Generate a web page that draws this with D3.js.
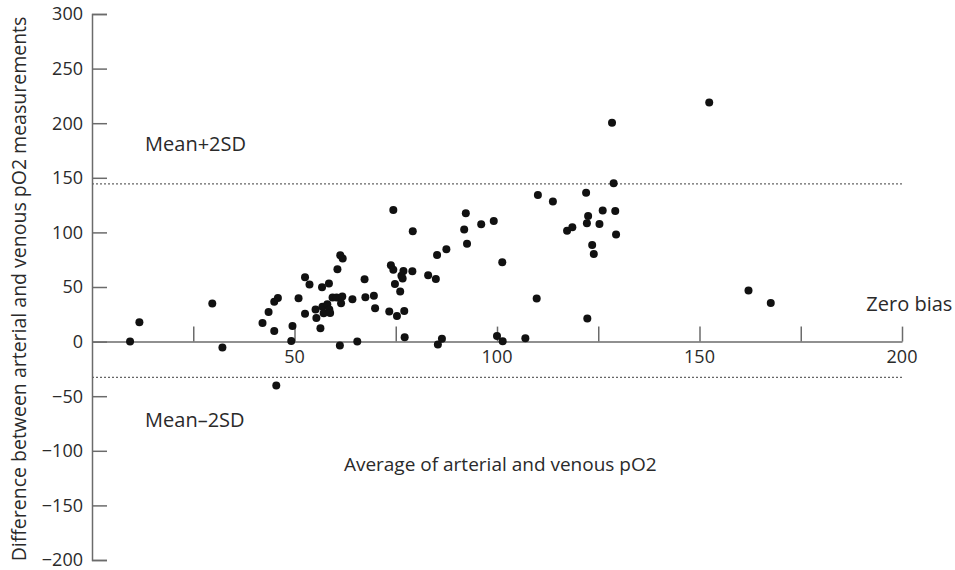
<!DOCTYPE html>
<html>
<head>
<meta charset="utf-8">
<script src="https://cdn.jsdelivr.net/npm/d3@7"></script>
<style>
  body { margin: 0; background: #fff; }
  svg text { font-family: "Open Sans", Lato, sans-serif; fill: #2a2a2a; }
</style>
</head>
<body>
<svg id="chart"></svg>
<script>
// average of arterial and venous pO2 (x) vs difference (y)
var avgPO2 = [9.4, 11.7, 29.7, 32.2, 42.1, 43.6, 45.0, 45.0, 45.9, 45.5,
  49.2, 49.5, 51.0, 52.6, 53.7, 52.6, 55.2, 55.4, 56.4, 56.8,
  58.5, 56.9, 57.2, 58.1, 58.6, 58.8, 59.4, 60.4, 61.8, 61.5,
  64.3, 60.6, 61.3, 61.9, 61.2, 65.5, 67.3, 67.5, 69.6, 69.9,
  73.4, 75.3, 77.1, 77.2, 74.4, 79.2, 73.8, 74.4, 76.9, 76.4,
  76.7, 79.1, 74.8, 76.1, 83.0, 84.9, 85.2, 87.5, 85.4, 86.4,
  92.3, 91.9, 92.6, 96.1, 99.2, 101.3, 100.0, 101.4, 107.0, 109.8,
  110.1, 113.8, 117.3, 118.6, 122.0, 122.5, 122.2, 123.5, 123.9, 122.3,
  125.3, 126.1, 129.2, 129.4, 128.8, 128.4, 152.4, 162.1, 167.6]
var diffPO2 = [0, 17.7, 35, -5.5, 17, 27, 9.8, 36.6, 40, -40.3,
  0.5, 14.4, 39.8, 58.9, 52.2, 25.6, 29.3, 21.7, 12.2, 49.7,
  53.1, 31.8, 25.9, 34.2, 29.3, 26.3, 40.3, 40.3, 41.2, 35.1,
  38.7, 66.2, 79, 76, -3.5, 0, 57, 40.6, 42.1, 30.5,
  27.5, 23.5, 28.1, 3.9, 120.6, 101, 69.9, 65.7, 64.7, 60.2,
  57.7, 64.4, 52.8, 45.8, 60.7, 57.4, 79.4, 84.5, -2.7, 2.5,
  117.5, 102.6, 89.5, 107.4, 110.5, 72.6, 5.2, 0.3, 3, 39.4,
  134.3, 128.2, 101.6, 104.7, 136.4, 115.1, 108.3, 88.5, 80.3, 21.1,
  107.8, 120, 119.7, 98, 145, 200.3, 218.9, 46.7, 35.4]

var upperLimit = 144.4   // mean + 2SD
var lowerLimit = -32.7   // mean - 2SD

var yTicks = [300, 250, 200, 150, 100, 50, 0, -50, -100, -150, -200]
var xTicks = [25, 50, 75, 100, 125, 150, 175, 200]
var xTickLabels = [50, 100, 150, 200]

var data = avgPO2.map((d, i) => ({x: d, y: diffPO2[i]}))

var width = 955, height = 570
var svg = d3.select("#chart").attr("width", width).attr("height", height)

var x = d3.scaleLinear().domain([0, 200]).range([92, 902])
var y = d3.scaleLinear().domain([-200, 300]).range([560, 14])

var axisColor = "#6b6b6b"

// y axis, ticks pointing into the plot
var yAxis = svg.append("g")
    .attr("transform", "translate(" + x(0) + ",0)")
    .call(d3.axisRight(y).tickValues(yTicks).tickSize(15).tickFormat(""))
yAxis.select(".domain").attr("stroke", axisColor).attr("stroke-width", 1.5)
yAxis.selectAll(".tick line").attr("stroke", axisColor).attr("stroke-width", 1.5)

svg.selectAll(".ylab")
    .data(yTicks)
    .enter()
    .append("text")
    .attr("class", "ylab")
    .attr("x", x(0) - 9)
    .attr("y", d => y(d))
    .attr("dy", "0.36em")
    .attr("text-anchor", "end")
    .style("font-size", "18px")
    .text(d => d < 0 ? "\u2212" + Math.abs(d) : d)

// x axis along zero, ticks pointing up
var xAxis = svg.append("g")
    .attr("transform", "translate(0," + y(0) + ")")
    .call(d3.axisTop(x).tickValues(xTicks).tickSize(15).tickSizeOuter(0).tickFormat(""))
xAxis.select(".domain").attr("stroke", axisColor).attr("stroke-width", 1.5)
xAxis.selectAll(".tick line").attr("stroke", axisColor).attr("stroke-width", 1.5)

svg.selectAll(".xlab")
    .data(xTickLabels)
    .enter()
    .append("text")
    .attr("class", "xlab")
    .attr("x", d => x(d))
    .attr("y", y(0) + 21)
    .attr("text-anchor", "middle")
    .style("font-size", "18px")
    .text(d => d)

// limits of agreement
svg.selectAll(".limit")
    .data([upperLimit, lowerLimit])
    .enter()
    .append("line")
    .attr("class", "limit")
    .attr("x1", x(0))
    .attr("x2", x(200))
    .attr("y1", d => y(d))
    .attr("y2", d => y(d))
    .attr("stroke", "#666")
    .attr("stroke-width", 1.2)
    .attr("stroke-dasharray", "2,2")

// points
svg.selectAll("circle")
    .data(data)
    .enter()
    .append("circle")
    .attr("cx", d => x(d.x))
    .attr("cy", d => y(d.y))
    .attr("r", 4)
    .attr("fill", "#111")

// annotations
svg.append("text").attr("x", x(13.1)).attr("y", y(181)).attr("dy", "0.36em")
    .style("font-size", "20px").text("Mean+2SD")
svg.append("text").attr("x", x(13.1)).attr("y", y(-72)).attr("dy", "0.36em")
    .style("font-size", "20px").text("Mean\u20132SD")
svg.append("text").attr("x", x(191.2)).attr("y", y(35)).attr("dy", "0.36em")
    .style("font-size", "20px").text("Zero bias")
svg.append("text").attr("x", x(100.8)).attr("y", y(-112)).attr("dy", "0.36em")
    .attr("text-anchor", "middle")
    .style("font-size", "19px").text("Average of arterial and venous pO2")

svg.append("text")
    .attr("transform", "translate(19,289) rotate(-90)")
    .attr("dy", "0.36em")
    .attr("text-anchor", "middle")
    .style("font-size", "19.5px")
    .text("Difference between arterial and venous pO2 measurements")
</script>
</body>
</html>
